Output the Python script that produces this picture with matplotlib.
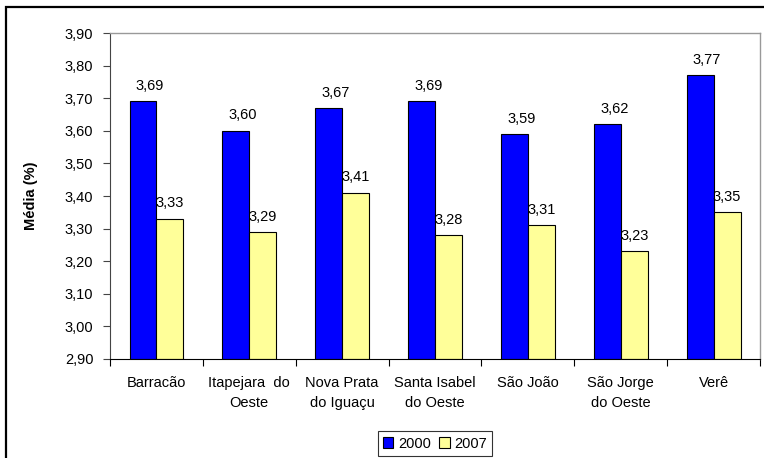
import numpy as np
import matplotlib.pyplot as plt
from matplotlib.patches import Rectangle

plt.rcParams['font.family'] = ['Liberation Sans', 'DejaVu Sans']

# data
municipios = ['Barracão', 'Itapejara  do\nOeste', 'Nova Prata\ndo Iguaçu', 'Santa Isabel\ndo Oeste',
              'São João', 'São Jorge\ndo Oeste', 'Verê']
media_2000 = [3.69, 3.60, 3.67, 3.69, 3.59, 3.62, 3.77]
media_2007 = [3.33, 3.29, 3.41, 3.28, 3.31, 3.23, 3.35]
y_ticks = [2.90, 3.00, 3.10, 3.20, 3.30, 3.40, 3.50, 3.60, 3.70, 3.80, 3.90]

FS = 10.5


def fmt(v):
    return f'{v:.2f}'.replace('.', ',')


fig = plt.figure(figsize=(7.64, 4.58), dpi=100)
ax = fig.add_axes([110 / 764, 1 - 359 / 458, 650 / 764, 326 / 458])

# outer chart border (cropped on right and bottom in the original)
fig.patches.append(Rectangle((6 / 764, -0.1), 1.2, 1 - 7 / 458 + 0.1, transform=fig.transFigure,
                             fill=False, edgecolor='black', linewidth=1.6))

x = np.arange(len(municipios)) + 0.5
w = 0.29
b1 = ax.bar(x - w / 2, np.array(media_2000) - 2.9, w, bottom=2.9, color='#0000FF',
            edgecolor='black', linewidth=0.8, label='2000')
b2 = ax.bar(x + w / 2, np.array(media_2007) - 2.9, w, bottom=2.9, color='#FFFF99',
            edgecolor='black', linewidth=0.8, label='2007')

for xi, v in zip(x - w / 2, media_2000):
    ax.annotate(fmt(v), (xi, v), xytext=(5, 6), textcoords='offset points',
                ha='center', va='bottom', fontsize=FS)
for xi, v in zip(x + w / 2, media_2007):
    ax.annotate(fmt(v), (xi, v), xytext=(0, 6), textcoords='offset points',
                ha='center', va='bottom', fontsize=FS)

ax.set_xlim(0, len(municipios))
ax.set_ylim(2.9, 3.9)
ax.set_yticks(y_ticks)
ax.set_yticklabels([fmt(t) for t in y_ticks], fontsize=FS)
ax.set_xticks(np.arange(len(municipios) + 1))
ax.set_xticklabels([])
ax.set_xticks(x, minor=True)
ax.set_xticklabels(municipios, minor=True, fontsize=FS, linespacing=1.55)
ax.tick_params(axis='x', which='minor', length=0, pad=12)
ax.tick_params(axis='x', which='major', length=5, direction='out', color='black')
ax.tick_params(axis='y', length=5, direction='out', color='#444444', pad=7)
ax.set_ylabel('Média (%)', fontsize=10.5, fontweight='bold')
ax.yaxis.set_label_coords(-0.111, 0.5)

for s in ['top', 'right']:
    ax.spines[s].set_color('#999999')
    ax.spines[s].set_linewidth(1.0)
ax.spines['left'].set_color('#444444')
ax.spines['bottom'].set_color('black')

leg = fig.legend(handles=[b1, b2], loc='center', bbox_to_anchor=(435 / 764, 1 - 443.5 / 458),
                 ncol=2, fontsize=FS, frameon=True, fancybox=False, edgecolor='black',
                 handlelength=0.7, handleheight=0.7, handletextpad=0.3, columnspacing=0.6,
                 borderpad=0.35, borderaxespad=0)
leg.get_frame().set_linewidth(0.8)

fig.savefig('out.png', dpi=100)
